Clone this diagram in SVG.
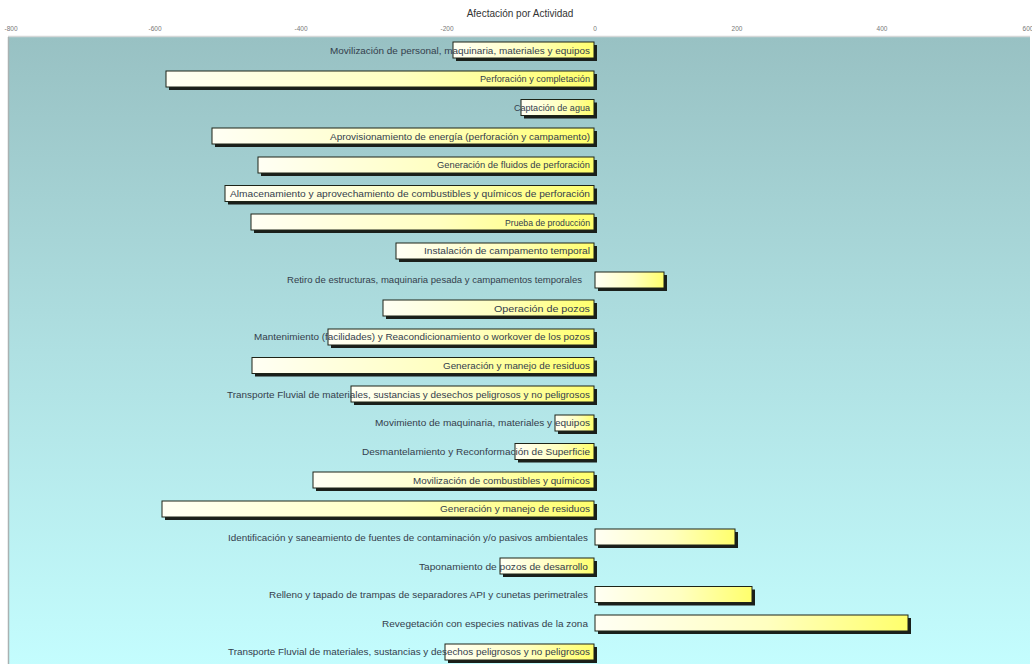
<svg xmlns="http://www.w3.org/2000/svg" width="1032" height="664" viewBox="0 0 1032 664">
  <defs>
    <linearGradient id="plotBg" x1="0" y1="0" x2="0" y2="1">
      <stop offset="0" stop-color="#98c1c3"/>
      <stop offset="0.5" stop-color="#afe0e2"/>
      <stop offset="1" stop-color="#c4fdfe"/>
    </linearGradient>
    <linearGradient id="barFill" x1="0" y1="0" x2="1" y2="0">
      <stop offset="0" stop-color="#fffff4"/>
      <stop offset="0.55" stop-color="#ffffc0"/>
      <stop offset="1" stop-color="#ffff6c"/>
    </linearGradient>
  </defs>
  <style>
    .title { font-family: "Liberation Sans", Arial, sans-serif; font-size: 10px; fill: #333; }
    .tick { font-family: "Liberation Sans", Arial, sans-serif; font-size: 6.5px; fill: #777; text-anchor: middle; }
    .lbl { font-family: "Liberation Sans", Arial, sans-serif; font-size: 9px; fill: #34404c; text-anchor: end; }
    .bar { fill: url(#barFill); stroke: #1e2418; stroke-width: 1; }
    .shadow { fill: #1a1f1a; }
  </style>

  <rect x="0" y="0" width="1032" height="664" fill="#ffffff"/>

  <!-- chart title and value axis -->
  <text class="title" x="520" y="17" text-anchor="middle">Afectación por Actividad</text>
  <g id="axis">
    <text class="tick" x="11" y="31">-800</text>
    <text class="tick" x="155" y="31">-600</text>
    <text class="tick" x="301" y="31">-400</text>
    <text class="tick" x="447" y="31">-200</text>
    <text class="tick" x="595" y="31">0</text>
    <text class="tick" x="737" y="31">200</text>
    <text class="tick" x="882" y="31">400</text>
    <text class="tick" x="1028" y="31" text-anchor="end">600</text>
  </g>

  <!-- plot area -->
  <g id="plot">
    <rect x="8" y="37" width="1022" height="630" fill="url(#plotBg)"/>
    <line x1="8" y1="36.5" x2="1030" y2="36.5" stroke="#d4d8d8" stroke-width="1.5"/>
    <line x1="8.5" y1="37" x2="8.5" y2="664" stroke="#a9b2b2" stroke-width="1.5"/>
  </g>

  <!-- bars: shadow, body, label -->
  <g id="bar01"><rect class="shadow" x="456" y="45" width="141" height="16"/><rect class="bar" x="453" y="42" width="141" height="16"/><text class="lbl" x="590" y="53.5" textLength="260" lengthAdjust="spacingAndGlyphs">Movilización de personal, maquinaria, materiales y equipos</text></g>
  <g id="bar02"><rect class="shadow" x="169" y="74" width="428" height="16"/><rect class="bar" x="166" y="71" width="428" height="16"/><text class="lbl" x="590" y="82.2" textLength="110" lengthAdjust="spacingAndGlyphs">Perforación y completación</text></g>
  <g id="bar03"><rect class="shadow" x="524" y="102.5" width="73" height="16"/><rect class="bar" x="521" y="99.5" width="73" height="16"/><text class="lbl" x="590" y="110.8" textLength="76" lengthAdjust="spacingAndGlyphs">Captación de agua</text></g>
  <g id="bar04"><rect class="shadow" x="215" y="131" width="382" height="16"/><rect class="bar" x="212" y="128" width="382" height="16"/><text class="lbl" x="590" y="139.5" textLength="260" lengthAdjust="spacingAndGlyphs">Aprovisionamiento de energía (perforación y campamento)</text></g>
  <g id="bar05"><rect class="shadow" x="261" y="160" width="336" height="16"/><rect class="bar" x="258" y="157" width="336" height="16"/><text class="lbl" x="590" y="168.2" textLength="153" lengthAdjust="spacingAndGlyphs">Generación de fluidos de perforación</text></g>
  <g id="bar06"><rect class="shadow" x="228" y="188.5" width="369" height="16"/><rect class="bar" x="225" y="185.5" width="369" height="16"/><text class="lbl" x="590" y="196.8" textLength="360" lengthAdjust="spacingAndGlyphs">Almacenamiento y aprovechamiento de combustibles y químicos de perforación</text></g>
  <g id="bar07"><rect class="shadow" x="254" y="217" width="343" height="16"/><rect class="bar" x="251" y="214" width="343" height="16"/><text class="lbl" x="590" y="225.5" textLength="85" lengthAdjust="spacingAndGlyphs">Prueba de producción</text></g>
  <g id="bar08"><rect class="shadow" x="399" y="246" width="198" height="16"/><rect class="bar" x="396" y="243" width="198" height="16"/><text class="lbl" x="590" y="254.2" textLength="166" lengthAdjust="spacingAndGlyphs">Instalación de campamento temporal</text></g>
  <g id="bar09"><rect class="shadow" x="598" y="275" width="69" height="16"/><rect class="bar" x="595" y="272" width="69" height="16"/><text class="lbl" x="582" y="282.8" textLength="295" lengthAdjust="spacingAndGlyphs">Retiro de estructuras, maquinaria pesada y campamentos temporales</text></g>
  <g id="bar10"><rect class="shadow" x="386" y="303" width="211" height="16"/><rect class="bar" x="383" y="300" width="211" height="16"/><text class="lbl" x="590" y="311.5" textLength="96" lengthAdjust="spacingAndGlyphs">Operación de pozos</text></g>
  <g id="bar11"><rect class="shadow" x="331" y="332" width="266" height="16"/><rect class="bar" x="328" y="329" width="266" height="16"/><text class="lbl" x="590" y="340.2" textLength="336" lengthAdjust="spacingAndGlyphs">Mantenimiento (facilidades) y Reacondicionamiento o workover de los pozos</text></g>
  <g id="bar12"><rect class="shadow" x="255" y="360.5" width="342" height="16"/><rect class="bar" x="252" y="357.5" width="342" height="16"/><text class="lbl" x="590" y="368.8" textLength="147" lengthAdjust="spacingAndGlyphs">Generación y manejo de residuos</text></g>
  <g id="bar13"><rect class="shadow" x="354" y="389" width="243" height="16"/><rect class="bar" x="351" y="386" width="243" height="16"/><text class="lbl" x="590" y="397.5" textLength="363" lengthAdjust="spacingAndGlyphs">Transporte Fluvial de materiales, sustancias y desechos peligrosos y no peligrosos</text></g>
  <g id="bar14"><rect class="shadow" x="558" y="418" width="39" height="16"/><rect class="bar" x="555" y="415" width="39" height="16"/><text class="lbl" x="590" y="426.2" textLength="215" lengthAdjust="spacingAndGlyphs">Movimiento de maquinaria, materiales y equipos</text></g>
  <g id="bar15"><rect class="shadow" x="518" y="446.5" width="79" height="16"/><rect class="bar" x="515" y="443.5" width="79" height="16"/><text class="lbl" x="590" y="454.8" textLength="228" lengthAdjust="spacingAndGlyphs">Desmantelamiento y Reconformación de Superficie</text></g>
  <g id="bar16"><rect class="shadow" x="316" y="475" width="281" height="16"/><rect class="bar" x="313" y="472" width="281" height="16"/><text class="lbl" x="590" y="483.5" textLength="177" lengthAdjust="spacingAndGlyphs">Movilización de combustibles y químicos</text></g>
  <g id="bar17"><rect class="shadow" x="165" y="504" width="432" height="16"/><rect class="bar" x="162" y="501" width="432" height="16"/><text class="lbl" x="590" y="512.2" textLength="150" lengthAdjust="spacingAndGlyphs">Generación y manejo de residuos</text></g>
  <g id="bar18"><rect class="shadow" x="598" y="532" width="140" height="16"/><rect class="bar" x="595" y="529" width="140" height="16"/><text class="lbl" x="588" y="540.8" textLength="360" lengthAdjust="spacingAndGlyphs">Identificación y saneamiento de fuentes de contaminación y/o pasivos ambientales</text></g>
  <g id="bar19"><rect class="shadow" x="503" y="561" width="94" height="16"/><rect class="bar" x="500" y="558" width="94" height="16"/><text class="lbl" x="588" y="569.5" textLength="169" lengthAdjust="spacingAndGlyphs">Taponamiento de pozos de desarrollo</text></g>
  <g id="bar20"><rect class="shadow" x="598" y="589.5" width="157" height="16"/><rect class="bar" x="595" y="586.5" width="157" height="16"/><text class="lbl" x="588" y="597.8" textLength="319" lengthAdjust="spacingAndGlyphs">Relleno y tapado de trampas de separadores API y cunetas perimetrales</text></g>
  <g id="bar21"><rect class="shadow" x="598" y="618" width="313" height="16"/><rect class="bar" x="595" y="615" width="313" height="16"/><text class="lbl" x="588" y="626.5" textLength="206" lengthAdjust="spacingAndGlyphs">Revegetación con especies nativas de la zona</text></g>
  <g id="bar22"><rect class="shadow" x="448" y="647" width="149" height="16"/><rect class="bar" x="445" y="644" width="149" height="16"/><text class="lbl" x="590" y="655.2" textLength="362" lengthAdjust="spacingAndGlyphs">Transporte Fluvial de materiales, sustancias y desechos peligrosos y no peligrosos</text></g>
</svg>
